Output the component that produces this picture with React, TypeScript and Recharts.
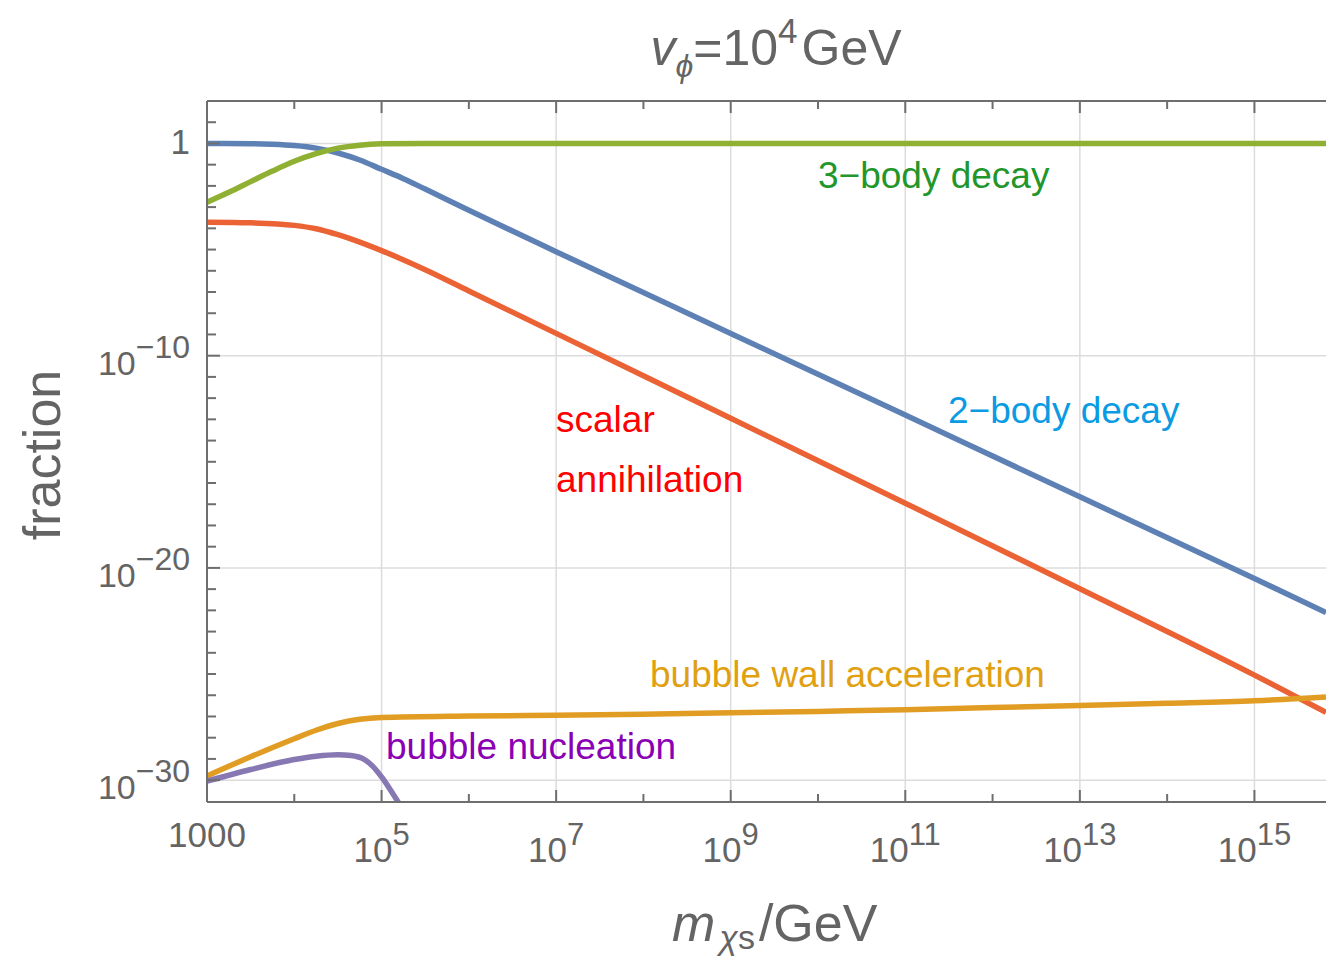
import { LineChart, Line, XAxis, YAxis, ReferenceLine } from "recharts";

// all values are log10
const xTicks = [3, 4, 5, 6, 7, 8, 9, 10, 11, 12, 13, 14, 15];
const xGrid = [5, 7, 9, 11, 13, 15];
const yTicks = [
  -30, -29, -28, -27, -26, -25, -24, -23, -22, -21, -20, -19, -18, -17, -16,
  -15, -14, -13, -12, -11, -10, -9, -8, -7, -6, -5, -4, -3, -2, -1, 0, 1,
];
const yGrid = [0, -10, -20, -30];

const scalarAnn: [number, number][] = [
  [3, -3.71], [3.5, -3.74], [4, -3.86], [4.25, -4.02], [4.5, -4.3],
  [4.75, -4.65], [5, -5.05], [5.5, -5.95], [6, -6.95], [7, -8.95],
  [9, -12.95], [11, -16.95], [13, -20.98], [15, -25.05], [15.82, -26.8],
];
const twoBody: [number, number][] = [
  [3, 0], [3.5, -0.01], [3.75, -0.04], [4, -0.1], [4.25, -0.22], [4.5, -0.45],
  [4.75, -0.78], [5, -1.22], [5.25, -1.66], [5.5, -2.15], [6, -3.15],
  [7, -5.1], [9, -8.95], [11, -12.8], [13, -16.65], [15, -20.5], [15.82, -22.1],
];
const threeBody: [number, number][] = [
  [3, -2.77], [3.25, -2.3], [3.5, -1.8], [3.75, -1.3], [4, -0.84],
  [4.25, -0.48], [4.5, -0.22], [4.75, -0.08], [5, -0.02], [5.5, 0], [15.82, 0],
];
const wallAcc: [number, number][] = [
  [3, -29.8], [3.5, -28.9], [4, -28.05], [4.25, -27.65], [4.5, -27.33],
  [4.75, -27.13], [5, -27.05], [6, -26.98], [7, -26.94], [8, -26.89],
  [9, -26.83], [10, -26.76], [11, -26.68], [12, -26.58], [13, -26.48],
  [14, -26.38], [15, -26.26], [15.82, -26.08],
];
const nucleation: [number, number][] = [
  [3, -30.05], [3.5, -29.5], [4, -29.03], [4.25, -28.87], [4.5, -28.8],
  [4.65, -28.84], [4.8, -29.02], [4.9, -29.35], [5, -29.85], [5.1, -30.45],
  [5.2, -31.1], [5.3, -31.8],
];

const series = [
  { key: "scalar", pts: scalarAnn, color: "#eb6235" },
  { key: "two", pts: twoBody, color: "#5e81b5" },
  { key: "three", pts: threeBody, color: "#8fb032" },
  { key: "wall", pts: wallAcc, color: "#e19c24" },
  { key: "nucl", pts: nucleation, color: "#8778b3" },
];

const axisColor = "#6e6e6e";
const textColor = "#646464";
const font = "'Liberation Sans', Arial, sans-serif";

const toPoints = (pts: [number, number][]) => pts.map(([x, y]) => ({ x, y }));

function BottomTick(props: any) {
  const { x, y, payload } = props;
  const v = payload.value;
  const major = v % 2 === 1;
  return (
    <g>
      <line x1={x} x2={x} y1={y} y2={y - (major ? 12 : 8)} stroke={axisColor} strokeWidth={2} />
      {major &&
        (v === 3 ? (
          <text x={x} y={y + 45} textAnchor="middle" fontSize={35} fill={textColor} fontFamily={font}>
            1000
          </text>
        ) : (
          <text x={x} y={y + 60} textAnchor="middle" fontSize={35} fill={textColor} fontFamily={font}>
            10
            <tspan dy={-17} fontSize={31}>
              {v}
            </tspan>
          </text>
        ))}
    </g>
  );
}

function TopTick(props: any) {
  const { x, y, payload } = props;
  const major = payload.value % 2 === 1;
  return <line x1={x} x2={x} y1={y} y2={y + (major ? 12 : 8)} stroke={axisColor} strokeWidth={2} />;
}

function LeftTick(props: any) {
  const { x, y, payload } = props;
  const v = payload.value;
  const major = v % 10 === 0;
  return (
    <g>
      <line x1={x} x2={x + (major ? 13 : 9)} y1={y} y2={y} stroke={axisColor} strokeWidth={2} />
      {major &&
        (v === 0 ? (
          <text x={x - 17} y={y + 11} textAnchor="end" fontSize={35} fill={textColor} fontFamily={font}>
            1
          </text>
        ) : (
          <text x={x - 17} y={y + 19} textAnchor="end" fontSize={34} fill={textColor} fontFamily={font}>
            10
            <tspan dy={-17} fontSize={32}>
              {"\u2212" + Math.abs(v)}
            </tspan>
          </text>
        ))}
    </g>
  );
}

export default function App() {
  return (
    <div
      style={{
        position: "fixed",
        left: 0,
        top: 0,
        width: 1326,
        height: 957,
        background: "#fff",
        overflow: "hidden",
        fontFamily: font,
      }}
    >
      <LineChart width={1326} height={957} margin={{ top: 91, right: 0, bottom: 115, left: 147 }}>
        <XAxis
          dataKey="x"
          type="number"
          domain={[3, 15.82]}
          ticks={xTicks}
          interval={0}
          tickLine={false}
          tickSize={0}
          tickMargin={0}
          height={40}
          allowDataOverflow
          axisLine={{ stroke: axisColor, strokeWidth: 2 }}
          tick={BottomTick}
        />
        <XAxis
          xAxisId="top"
          orientation="top"
          dataKey="x"
          type="number"
          domain={[3, 15.82]}
          ticks={xTicks}
          interval={0}
          tickLine={false}
          tickSize={0}
          tickMargin={0}
          height={10}
          allowDataOverflow
          axisLine={{ stroke: axisColor, strokeWidth: 2 }}
          tick={TopTick}
        />
        <YAxis
          type="number"
          domain={[-31.03, 2]}
          ticks={yTicks}
          interval={0}
          tickLine={false}
          tickSize={0}
          tickMargin={0}
          width={60}
          allowDataOverflow
          axisLine={{ stroke: axisColor, strokeWidth: 2 }}
          tick={LeftTick}
        />
        {xGrid.map((v) => (
          <ReferenceLine key={"gx" + v} x={v} stroke="#dcdcdc" strokeWidth={1.5} />
        ))}
        {yGrid.map((v) => (
          <ReferenceLine key={"gy" + v} y={v} stroke="#dcdcdc" strokeWidth={1.5} />
        ))}
        {series.map((s) => (
          <Line
            key={s.key}
            data={toPoints(s.pts)}
            dataKey="y"
            type="monotone"
            stroke={s.color}
            strokeWidth={5.5}
            dot={false}
            activeDot={false}
            isAnimationActive={false}
          />
        ))}
      </LineChart>
      <svg
        width={1326}
        height={957}
        style={{ position: "absolute", left: 0, top: 0, pointerEvents: "none" }}
        fontFamily={font}
      >
        <text x={776} y={65} textAnchor="middle" fontSize={50} fill={textColor}>
          <tspan fontStyle="italic">v</tspan>
          <tspan fontStyle="italic" fontSize={32} dy={12}>
            {"\u03d5"}
          </tspan>
          <tspan dy={-12}>=10</tspan>
          <tspan fontSize={35} dy={-22}>
            4
          </tspan>
          <tspan dx={4} dy={22}>GeV</tspan>
        </text>
        <text x={672} y={941} fontSize={52} fill={textColor}>
          <tspan fontStyle="italic">m</tspan>
          <tspan fontSize={34} dx={4} dy={8}>
            <tspan fontStyle="italic">{"\u03c7"}</tspan>s
          </tspan>
          <tspan dx={4} dy={-8}>
            /GeV
          </tspan>
        </text>
        <text
          x={60}
          y={455}
          textAnchor="middle"
          fontSize={52}
          fill={textColor}
          transform="rotate(-90 60 455)"
        >
          fraction
        </text>
        <text x={818} y={188} fontSize={37} fill="#22962a">
          {"3\u2212body decay"}
        </text>
        <text x={948} y={423} fontSize={37} fill="#0a9be3">
          {"2\u2212body decay"}
        </text>
        <text x={556} y={432} fontSize={37} fill="#ff0000">
          scalar
        </text>
        <text x={556} y={492} fontSize={37} fill="#ff0000">
          annihilation
        </text>
        <text x={650} y={687} fontSize={37} fill="#e0a010">
          bubble wall acceleration
        </text>
        <text x={386} y={759} fontSize={37} fill="#8a00b4">
          bubble nucleation
        </text>
      </svg>
    </div>
  );
}
